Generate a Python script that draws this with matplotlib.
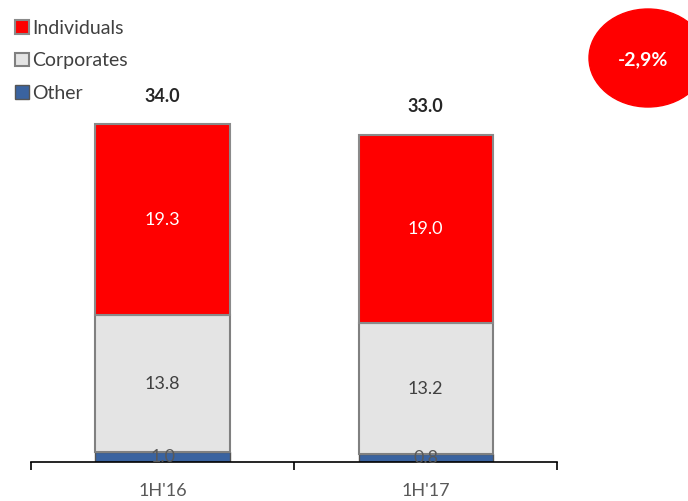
import numpy as np
import matplotlib.pyplot as plt
from matplotlib.patches import Ellipse

# data
periods = ["1H'16", "1H'17"]
individuals = [19.3, 19.0]
corporates = [13.8, 13.2]
other = [1.0, 0.8]
totals = [34.0, 33.0]
change_label = "-2,9%"

plt.rcParams['font.family'] = ['Lato', 'DejaVu Sans']

fig = plt.figure(figsize=(6.88, 5.01), dpi=100)
ax = fig.add_axes([0.045, 0.078, 0.765, 0.922])

x = np.arange(len(periods))
w = 0.51
c_ind, c_corp, c_oth = "#FF0000", "#E4E4E4", "#3A63A0"

b_oth = ax.bar(x, other, w, color=c_oth, edgecolor="#555555", linewidth=1)
b_corp = ax.bar(x, corporates, w, bottom=other, color=c_corp,
                edgecolor="#808080", linewidth=1.5)
bottom2 = np.array(other) + np.array(corporates)
b_ind = ax.bar(x, individuals, w, bottom=bottom2, color=c_ind,
               edgecolor="#8a8a8a", linewidth=1.5)

# segment labels
for i in range(len(x)):
    ax.text(x[i], other[i] / 2, f"{other[i]:.1f}", ha="center", va="center",
            fontsize=13, color="#595959")
    ax.text(x[i], other[i] + corporates[i] / 2, f"{corporates[i]:.1f}",
            ha="center", va="center", fontsize=13, color="#404040")
    ax.text(x[i], bottom2[i] + individuals[i] / 2, f"{individuals[i]:.1f}",
            ha="center", va="center", fontsize=13, color="white")
    ax.text(x[i], totals[i] + 2.0, f"{totals[i]:.1f}", ha="center",
            va="bottom", fontsize=13, color="#262626", fontweight="bold")

ax.set_xlim(-0.5, 1.5)
ax.set_ylim(0, 46.6)
ax.set_xticks([-0.5, 0.5, 1.5])
ax.set_xticklabels([])
ax.set_xticks(x, minor=True)
ax.set_xticklabels(periods, minor=True, fontsize=13, color="#595959")
ax.tick_params(axis="x", which="major", direction="out", length=6, width=1.2)
ax.tick_params(axis="x", which="minor", length=0, pad=15)
ax.set_yticks([])
for s in ["top", "right", "left"]:
    ax.spines[s].set_visible(False)
ax.spines["bottom"].set_linewidth(1.2)

ax.legend([b_ind, b_corp, b_oth], ["Individuals", "Corporates", "Other"],
          loc="upper left", bbox_to_anchor=(-0.056, 0.987), frameon=False,
          fontsize=14, handlelength=0.7, handleheight=0.7, handletextpad=0.2,
          labelspacing=0.8, labelcolor="#404040", borderaxespad=0.3)

# change bubble
ell = Ellipse((648 / 688, 1 - 58 / 501), 118 / 688, 98 / 501,
              transform=fig.transFigure, color="#FF0000", clip_on=False)
fig.patches.append(ell)
fig.text(643 / 688, 1 - 60 / 501, change_label, ha="center", va="center",
         fontsize=14, fontweight="bold", color="white")

plt.savefig("out.png", dpi=100)
